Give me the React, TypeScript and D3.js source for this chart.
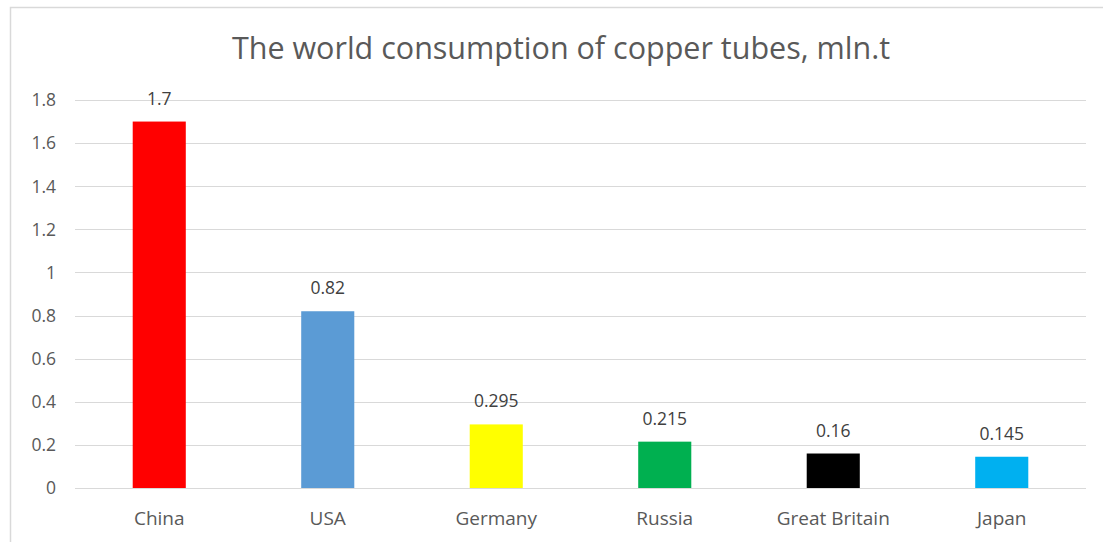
import * as d3 from "d3";
import React, { useEffect, useRef } from "react";

const categories = ["China", "USA", "Germany", "Russia", "Great Britain", "Japan"];
const values = [1.7, 0.82, 0.295, 0.215, 0.16, 0.145];
const valueLabels = ["1.7", "0.82", "0.295", "0.215", "0.16", "0.145"];
const barColors = ["#ff0000", "#5b9bd5", "#ffff00", "#00b050", "#000000", "#00b0f0"];
const yTicks = [0, 0.2, 0.4, 0.6, 0.8, 1, 1.2, 1.4, 1.6, 1.8];
const title = "The world consumption of copper tubes, mln.t";

const App = () => {
  const svgRef = useRef<SVGSVGElement>(null);

  useEffect(() => {
    const width = 1103;
    const height = 542;
    const margin = { top: 100, right: 17, bottom: 54, left: 75 };
    const font = "'Open Sans', 'Noto Sans', sans-serif";

    const svg = d3.select(svgRef.current);
    svg.selectAll("*").remove();

    svg.append("rect")
      .attr("x", 0).attr("y", 0)
      .attr("width", width).attr("height", height)
      .attr("fill", "#ffffff");

    // outer chart border (right/bottom run off the picture)
    svg.append("rect")
      .attr("x", 10.5).attr("y", 7.5)
      .attr("width", width).attr("height", height)
      .attr("fill", "none")
      .attr("stroke", "#d9d9d9")
      .attr("stroke-width", 1.5);

    const x = d3.scaleBand()
      .domain(categories)
      .range([margin.left, width - margin.right])
      .paddingInner(0.685)
      .paddingOuter(0.3425);

    const y = d3.scaleLinear()
      .domain([0, 1.8])
      .range([height - margin.bottom, margin.top]);

    // gridlines
    svg.append("g")
      .selectAll("line")
      .data(yTicks)
      .enter()
      .append("line")
      .attr("x1", margin.left)
      .attr("x2", width - margin.right)
      .attr("y1", d => Math.round(y(d)) + 0.5)
      .attr("y2", d => Math.round(y(d)) + 0.5)
      .attr("stroke", "#d9d9d9")
      .attr("stroke-width", 1.2);

    // y labels
    svg.append("g")
      .selectAll("text")
      .data(yTicks)
      .enter()
      .append("text")
      .attr("x", 56)
      .attr("y", d => y(d))
      .attr("dy", "0.36em")
      .attr("text-anchor", "end")
      .attr("font-family", font)
      .attr("font-size", 17.5)
      .attr("fill", "#595959")
      .text(d => String(d));

    // bars
    svg.append("g")
      .selectAll("rect")
      .data(values)
      .enter()
      .append("rect")
      .attr("x", (d, i) => x(categories[i])!)
      .attr("y", d => y(d))
      .attr("width", x.bandwidth())
      .attr("height", d => y(0) - y(d))
      .attr("fill", (d, i) => barColors[i]);

    // value labels
    svg.append("g")
      .selectAll("text")
      .data(values)
      .enter()
      .append("text")
      .attr("x", (d, i) => x(categories[i])! + x.bandwidth() / 2)
      .attr("y", d => y(d) - 17)
      .attr("text-anchor", "middle")
      .attr("font-family", font)
      .attr("font-size", 17.5)
      .attr("fill", "#404040")
      .text((d, i) => valueLabels[i]);

    // category labels
    svg.append("g")
      .selectAll("text")
      .data(categories)
      .enter()
      .append("text")
      .attr("x", d => x(d)! + x.bandwidth() / 2)
      .attr("y", height - margin.bottom + 37)
      .attr("text-anchor", "middle")
      .attr("font-family", font)
      .attr("font-size", 19)
      .attr("fill", "#595959")
      .text(d => d);

    // title
    svg.append("text")
      .attr("x", 561)
      .attr("y", 59)
      .attr("text-anchor", "middle")
      .attr("font-family", font)
      .attr("font-size", 30.5)
      .attr("fill", "#595959")
      .text(title);
  }, []);

  return (
    <svg
      ref={svgRef}
      width={1103}
      height={542}
      style={{ position: "absolute", left: 0, top: 0 }}
    />
  );
};

export default App;
